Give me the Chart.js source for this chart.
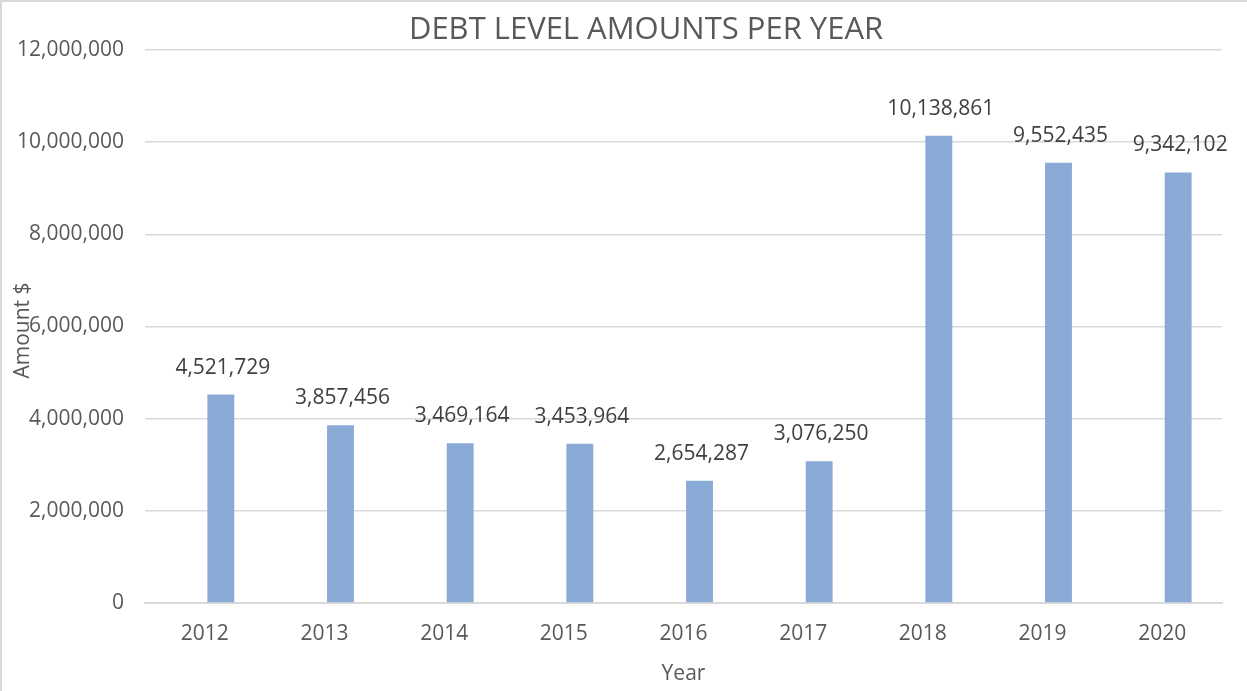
<!DOCTYPE html>
<html>
<head>
<meta charset="utf-8">
<script src="https://cdn.jsdelivr.net/npm/chart.js@4.4.1/dist/chart.umd.min.js"></script>
<style>
  html, body { margin: 0; padding: 0; background: #fff; }
  #wrap { position: relative; width: 1247px; height: 691px; box-sizing: border-box; border-top: 2px solid #d9d9d9; border-left: 2px solid #d9d9d9; }
</style>
</head>
<body>
<div id="wrap"><canvas id="debtChart" width="1245" height="689"></canvas></div>
<script>
// Data
const years = ["2012", "2013", "2014", "2015", "2016", "2017", "2018", "2019", "2020"];
const debtAmounts = [4521729, 3857456, 3469164, 3453964, 2654287, 3076250, 10138861, 9552435, 9342102];
const emptySeries = [null, null, null, null, null, null, null, null, null];

const chartTitle = "DEBT LEVEL AMOUNTS PER YEAR";
const yTitle = "Amount $";
const xTitle = "Year";

const textGrey = "#595959";
const fontName = "'Open Sans', sans-serif";

// Title, y axis title and value labels drawn on the canvas
const extrasPlugin = {
  id: "extras",
  afterDatasetsDraw(chart) {
    const ctx = chart.ctx;
    const area = chart.chartArea;
    ctx.save();

    // values above bars
    const meta = chart.getDatasetMeta(1);
    ctx.fillStyle = "#404040";
    ctx.font = "21px " + fontName;
    ctx.textAlign = "center";
    ctx.textBaseline = "middle";
    meta.data.forEach((bar, i) => {
      ctx.fillText(debtAmounts[i].toLocaleString("en-US"), bar.x + 2, bar.y - 27);
    });

    // chart title
    ctx.fillStyle = textGrey;
    ctx.font = "31px " + fontName;
    ctx.fillText(chartTitle, 644, 28);

    // y axis title (sits on top of the tick labels like the original)
    ctx.font = "21px " + fontName;
    ctx.translate(21, (area.top + area.bottom) / 2 + 4);
    ctx.rotate(-Math.PI / 2);
    ctx.fillText(yTitle, 0, 0);
    ctx.restore();
  },
};

new Chart(document.getElementById("debtChart"), {
  type: "bar",
  data: {
    labels: years,
    datasets: [
      {
        label: "",
        data: emptySeries,
        backgroundColor: "#8aaad6",
      },
      {
        label: "Amount",
        data: debtAmounts,
        backgroundColor: "#8aaad6",
      },
    ],
  },
  options: {
    responsive: false,
    animation: false,
    categoryPercentage: 0.535,
    barPercentage: 0.84,
    layout: {
      padding: { top: 48, right: 25, left: 0, bottom: 0 },
    },
    plugins: {
      legend: { display: false },
      tooltip: { enabled: false },
      title: { display: false },
    },
    scales: {
      y: {
        min: 0,
        max: 12000000,
        ticks: {
          stepSize: 2000000,
          color: textGrey,
          padding: 21,
          font: { family: fontName, size: 21 },
          callback: (v) => v.toLocaleString("en-US"),
        },
        grid: { color: "#d9d9d9", lineWidth: 1.5, drawTicks: false },
        border: { display: false },
        afterFit: (scale) => { scale.width = 143; },
      },
      x: {
        ticks: {
          color: textGrey,
          padding: 18,
          font: { family: fontName, size: 21 },
        },
        grid: { display: false, drawTicks: false },
        border: { color: "#d9d9d9", width: 2 },
        title: {
          display: true,
          text: xTitle,
          color: textGrey,
          font: { family: fontName, size: 21 },
          padding: { top: 7 },
        },
        afterFit: (scale) => { scale.height = 88; },
      },
    },
  },
  plugins: [extrasPlugin],
});
</script>
</body>
</html>
